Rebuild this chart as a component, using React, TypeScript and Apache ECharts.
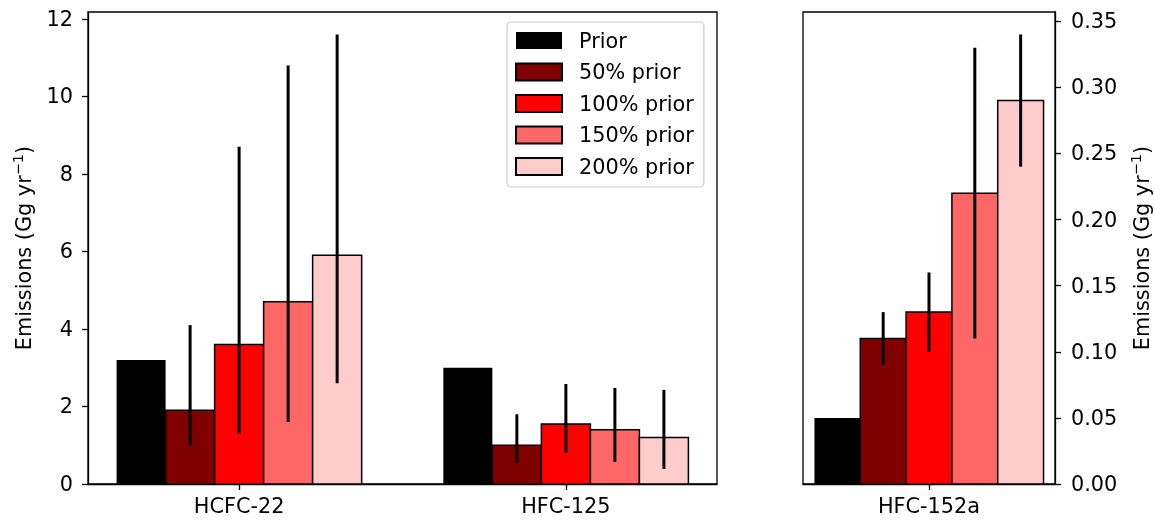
import React, { useEffect, useRef } from "react";
import * as echarts from "echarts";

const scenarios = ["Prior", "50% prior", "100% prior", "150% prior", "200% prior"];
const colors = ["#000000", "#800000", "#ff0000", "#ff6666", "#ffcccc"];
const leftCategories = ["HCFC-22", "HFC-125"];
const rightCategories = ["HFC-152a"];

// values per scenario, order: Prior, 50%, 100%, 150%, 200%
const hcfc22 = [3.2, 1.9, 3.6, 4.7, 5.9];
const hfc125 = [3.0, 1.0, 1.55, 1.4, 1.2];
const hfc152a = [0.05, 0.11, 0.13, 0.22, 0.29];

const hcfc22Low = [null, 1.0, 1.3, 1.6, 2.6];
const hcfc22High = [null, 4.1, 8.7, 10.8, 11.6];
const hfc125Low = [null, 0.55, 0.8, 0.57, 0.39];
const hfc125High = [null, 1.8, 2.58, 2.48, 2.43];
const hfc152aLow = [null, 0.09, 0.1, 0.11, 0.24];
const hfc152aHigh = [null, 0.13, 0.16, 0.33, 0.34];

const leftTicks = [0, 2, 4, 6, 8, 10, 12];
const rightTicks = [0, 0.05, 0.1, 0.15, 0.2, 0.25, 0.3, 0.35];

const BAR_W = 0.15;
const FONT = "DejaVu Sans";
const FS = 20.8;

function barRender(scenarioIdx: number) {
  return (params: any, api: any) => {
    const x = api.value(0) + (scenarioIdx - 2) * BAR_W;
    const y = api.value(1);
    const p1 = api.coord([x - BAR_W / 2, y]);
    const p2 = api.coord([x + BAR_W / 2, 0]);
    return {
      type: "rect",
      shape: { x: p1[0], y: p1[1], width: p2[0] - p1[0], height: p2[1] - p1[1] },
      style: {
        fill: colors[scenarioIdx],
        stroke: "#000",
        lineWidth: scenarioIdx === 0 ? 0 : 1.5,
      },
    };
  };
}

function errRender(params: any, api: any) {
  const x = api.value(0) + (api.value(1) - 2) * BAR_W;
  const p1 = api.coord([x, api.value(2)]);
  const p2 = api.coord([x, api.value(3)]);
  return {
    type: "line",
    shape: { x1: p1[0], y1: p1[1], x2: p2[0], y2: p2[1] },
    style: { stroke: "#000", lineWidth: 3 },
  };
}

const yName = "{m|Emissions (Gg yr}{sup|\u22121}{m|)}";
const yNameStyle = {
  fontFamily: FONT,
  color: "#000",
  rich: {
    m: { fontSize: FS, fontFamily: FONT, color: "#000", verticalAlign: "bottom" },
    sup: { fontSize: 14.5, fontFamily: FONT, color: "#000", verticalAlign: "bottom", padding: [0, 0, 9, 0] },
  },
};

export default function App() {
  const ref = useRef<HTMLDivElement>(null);
  useEffect(() => {
    if (!ref.current) return;
    const chart = echarts.init(ref.current, undefined, { renderer: "svg" });

    const leftGroups = [hcfc22, hfc125];
    const leftLows = [hcfc22Low, hfc125Low];
    const leftHighs = [hcfc22High, hfc125High];

    const series: any[] = [];
    scenarios.forEach((name, si) => {
      const itemStyle = { color: colors[si], borderColor: "#000", borderWidth: si === 0 ? 0 : 1.5 };
      series.push({
        type: "custom",
        name,
        xAxisIndex: 0,
        yAxisIndex: 0,
        itemStyle,
        renderItem: barRender(si),
        encode: { x: 0, y: 1 },
        data: leftGroups.map((g, ci) => [ci, g[si]]),
        z: 2,
      });
      series.push({
        type: "custom",
        name,
        xAxisIndex: 1,
        yAxisIndex: 1,
        itemStyle,
        renderItem: barRender(si),
        encode: { x: 0, y: 1 },
        data: [[0, hfc152a[si]]],
        z: 2,
      });
    });

    const leftErr: any[] = [];
    leftGroups.forEach((_, ci) => {
      scenarios.forEach((_, si) => {
        if (leftLows[ci][si] != null) leftErr.push([ci, si, leftLows[ci][si], leftHighs[ci][si]]);
      });
    });
    const rightErr: any[] = [];
    scenarios.forEach((_, si) => {
      if (hfc152aLow[si] != null) rightErr.push([0, si, hfc152aLow[si], hfc152aHigh[si]]);
    });
    series.push({
      type: "custom",
      name: "errLeft",
      xAxisIndex: 0,
      yAxisIndex: 0,
      renderItem: errRender,
      encode: { x: 0, y: [2, 3] },
      data: leftErr,
      z: 5,
    });
    series.push({
      type: "custom",
      name: "errRight",
      xAxisIndex: 1,
      yAxisIndex: 1,
      renderItem: errRender,
      encode: { x: 0, y: [2, 3] },
      data: rightErr,
      z: 5,
    });

    const axisCommon = {
      axisLine: { show: true, onZero: false, lineStyle: { color: "#000", width: 1.3 } },
      axisTick: { show: true, length: 6, lineStyle: { color: "#000", width: 1.3 } },
      splitLine: { show: false },
    };
    const labelBase = { fontSize: FS, color: "#000", fontFamily: FONT };

    chart.setOption({
      animation: false,
      textStyle: { fontFamily: FONT },
      grid: [
        { left: 88, top: 12, width: 629, height: 472, show: true, borderColor: "#000", borderWidth: 1.3, backgroundColor: "transparent" },
        { left: 803, top: 12, width: 252, height: 472, show: true, borderColor: "#000", borderWidth: 1.3, backgroundColor: "transparent" },
      ],
      legend: {
        data: scenarios,
        orient: "vertical",
        left: 507,
        top: 22,
        icon: "rect",
        itemWidth: 46,
        itemHeight: 17,
        itemGap: 10.5,
        padding: [8, 10, 10, 8],
        borderColor: "#cccccc",
        borderWidth: 1.2,
        borderRadius: 4,
        backgroundColor: "rgba(255,255,255,0.8)",
        textStyle: { fontFamily: FONT, fontSize: FS, color: "#000", padding: [0, 0, 0, 12] },
        selectedMode: false,
      },
      xAxis: [
        {
          type: "value",
          gridIndex: 0,
          min: -0.4625,
          max: 1.4625,
          ...axisCommon,
          axisTick: { ...axisCommon.axisTick, customValues: [0, 1] },
          axisLabel: {
            customValues: [0, 1],
            margin: 11,
            ...labelBase,
            formatter: (v: number) => leftCategories[Math.round(v)] ?? "",
          },
        },
        {
          type: "value",
          gridIndex: 1,
          min: -0.4125,
          max: 0.4125,
          ...axisCommon,
          axisTick: { ...axisCommon.axisTick, customValues: [0] },
          axisLabel: {
            customValues: [0],
            margin: 11,
            ...labelBase,
            formatter: (v: number) => rightCategories[Math.round(v)] ?? "",
          },
        },
      ],
      yAxis: [
        {
          type: "value",
          gridIndex: 0,
          min: 0,
          max: 12.18,
          ...axisCommon,
          axisTick: { ...axisCommon.axisTick, customValues: leftTicks },
          axisLabel: { customValues: leftTicks, margin: 15, ...labelBase },
          name: yName,
          nameLocation: "middle",
          nameRotate: 90,
          nameGap: 54,
          nameTextStyle: yNameStyle,
        },
        {
          type: "value",
          gridIndex: 1,
          position: "right",
          min: 0,
          max: 0.357,
          ...axisCommon,
          axisTick: { ...axisCommon.axisTick, customValues: rightTicks },
          axisLabel: {
            customValues: rightTicks,
            margin: 16,
            ...labelBase,
            formatter: (v: number) => v.toFixed(2),
          },
          name: yName,
          nameLocation: "middle",
          nameRotate: 90,
          nameGap: 73,
          nameTextStyle: yNameStyle,
        },
      ],
      series,
    });
    return () => chart.dispose();
  }, []);
  return <div ref={ref} style={{ position: "fixed", left: 0, top: 0, width: 1155, height: 522 }} />;
}
